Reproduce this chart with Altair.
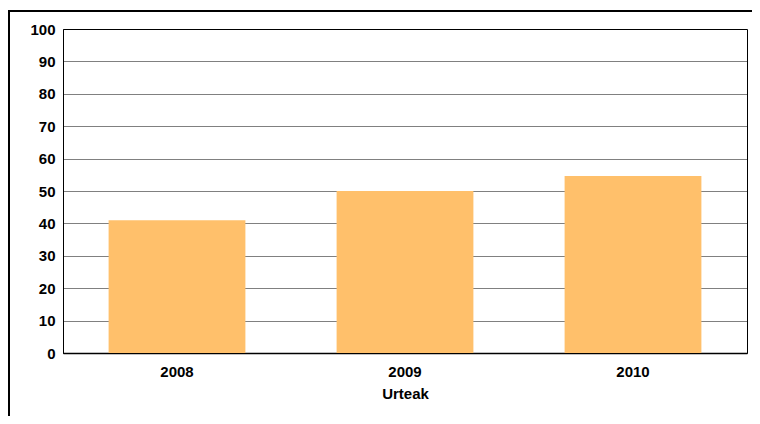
import altair as alt
import pandas as pd

years = ["2008", "2009", "2010"]
values = [41.0, 50.0, 54.6]
y_ticks = list(range(0, 101, 10))

df = pd.DataFrame({"Urteak": years, "Value": values})

FONT = "Liberation Sans"

bars = alt.Chart(df).mark_bar(color="#FFC06B").encode(
    x=alt.X("Urteak:N", sort=years,
            scale=alt.Scale(paddingInner=0.4, paddingOuter=0.2),
            axis=alt.Axis(title="Urteak", labelAngle=0, ticks=False,
                          domain=True, domainColor="#000000", domainWidth=1.5,
                          labelFont=FONT, labelFontWeight="bold",
                          labelFontSize=15, labelColor="#000000", labelPadding=11,
                          titleFont=FONT, titleFontWeight="bold",
                          titleFontSize=15, titleColor="#000000", titlePadding=7,
                          grid=False)),
    y=alt.Y("Value:Q", scale=alt.Scale(domain=[0, 100], nice=False),
            axis=alt.Axis(title=None, values=y_ticks, ticks=False, domain=False,
                          labelFont=FONT, labelFontWeight="bold",
                          labelFontSize=15, labelColor="#000000", labelPadding=8,
                          grid=True, gridColor="#000000", gridDash=[1, 1],
                          gridWidth=1, gridOpacity=1)),
)

frame = alt.Chart(pd.DataFrame({"f": [0]})).mark_rect(
    fill=None, stroke="#000000", strokeWidth=2, clip=False
).encode(
    x=alt.value(-54), x2=alt.value(740),
    y=alt.value(-18), y2=alt.value(440),
)

chart = alt.layer(bars, frame).properties(
    width=684, height=324,
    autosize=alt.AutoSizeParams(type="none"),
    padding={"left": 55, "top": 21, "right": 5, "bottom": 63},
).configure_view(stroke="#000000", strokeWidth=1)

chart.save("out.html", embed_options={"renderer": "svg", "actions": False})
